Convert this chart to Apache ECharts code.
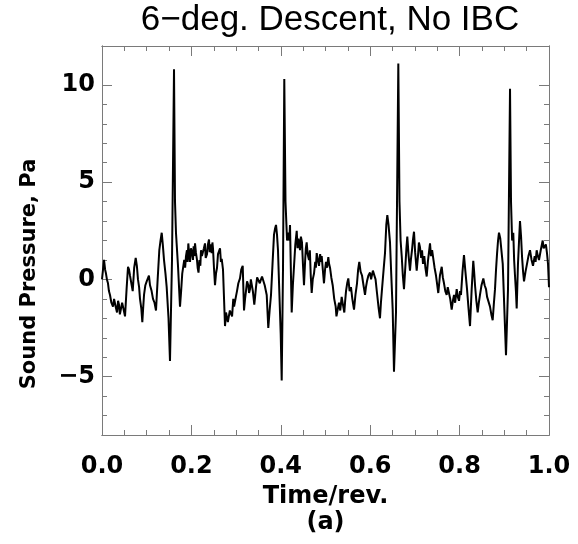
<!DOCTYPE html>
<html>
<head>
<meta charset="utf-8">
<script src="https://cdn.jsdelivr.net/npm/echarts@6/dist/echarts.min.js"></script>
<style>
html,body{margin:0;padding:0;background:#fff;}
#chart{width:578px;height:544px;}
</style>
</head>
<body>
<div id="chart"></div>
<script>
// Time (fraction of revolution)
const time = [
0,0.0045,0.0070,0.0089,0.0110,0.0134,0.0155,0.0179,0.0210,0.0246,
0.0270,0.0291,0.0315,0.0336,0.0360,0.0380,0.0400,0.0425,0.0450,0.0470,
0.0495,0.0515,0.0550,0.0582,0.0605,0.0626,0.0655,0.0687,0.0720,0.0754,
0.0780,0.0805,0.0830,0.0850,0.0880,0.0902,0.0920,0.0940,0.0970,0.1000,
0.1029,0.1050,0.1074,0.1110,0.1141,0.1175,0.1208,0.1245,0.1282,0.1310,
0.1336,0.1360,0.1387,0.1420,0.1447,0.1488,0.1521,0.1566,0.1611,0.1633,
0.1655,0.1700,
0.1745,0.1770,0.1795,0.1819,0.1840,0.1860,0.1879,0.1900,0.1915,0.1931,
0.1950,0.1969,0.1990,0.2013,0.2035,0.2050,0.2065,0.2081,0.2100,0.2125,
0.2140,0.2159,0.2180,0.2200,0.2215,0.2235,0.2260,0.2280,0.2304,0.2320,
0.2349,0.2370,0.2394,0.2410,0.2430,0.2454,0.2470,0.2483,0.2505,0.2528,
0.2550,0.2573,0.2595,0.2617,0.2640,0.2660,0.2678,0.2707,
0.2752,0.2775,0.2796,0.2815,0.2841,0.2860,0.2886,0.2910,0.2937,0.2955,
0.2975,0.2995,0.3020,0.3050,0.3087,0.3115,0.3148,0.3177,0.3200,0.3221,
0.3245,0.3273,0.3290,0.3311,0.3330,0.3349,0.3375,0.3407,0.3425,0.3445,
0.3470,0.3497,0.3530,0.3557,0.3580,0.3602,0.3640,0.3685,
0.3720,0.3750,0.3781,0.3815,0.3848,0.3870,0.3893,0.3915,0.3937,0.3965,
0.3998,0.4020,0.4049,0.4078,
0.4105,0.4140,0.4168,0.4190,0.4206,0.4228,0.4244,0.4270,0.4295,0.4325,
0.4356,0.4375,0.4395,0.4430,0.4450,0.4474,0.4495,0.4519,0.4545,0.4560,
0.4579,0.4600,0.4631,0.4650,0.4670,0.4691,0.4715,0.4743,0.4770,0.4785,
0.4803,0.4830,0.4855,0.4880,0.4900,0.4915,0.4940,0.4966,0.4990,0.5011,
0.5035,0.5063,0.5080,0.5101,
0.5130,0.5161,0.5195,0.5228,0.5245,0.5264,0.5285,0.5302,0.5330,0.5362,
0.5390,0.5421,0.5440,0.5459,0.5485,0.5510,0.5540,0.5570,0.5600,0.5638,
0.5670,0.5705,0.5730,0.5756,0.5785,0.5817,0.5850,0.5884,0.5905,0.5928,
0.5960,0.5996,0.6020,0.6040,0.6060,0.6085,0.6120,0.6152,0.6190,
0.6219,0.6240,0.6264,0.6300,0.6331,0.6360,0.6383,0.6410,0.6443,0.6470,
0.6503,0.6532,0.6577,0.6629,
0.6655,0.6680,0.6705,0.6730,0.6756,0.6790,0.6810,0.6830,0.6860,0.6890,
0.6910,0.6935,0.6955,0.6980,0.7005,0.7040,0.7069,0.7090,0.7114,0.7140,
0.7160,0.7181,0.7210,0.7235,0.7264,0.7290,0.7315,0.7338,0.7360,0.7385,
0.7412,0.7440,0.7472,
0.7500,0.7523,0.7560,0.7600,0.7625,0.7651,0.7680,0.7711,0.7735,0.7763,
0.7790,0.7823,0.7850,0.7875,0.7900,0.7935,0.7960,0.7987,0.8010,0.8031,
0.8065,0.8098,0.8130,0.8166,0.8200,0.8233,0.8270,0.8306,0.8325,0.8345,
0.8375,0.8405,0.8430,0.8456,0.8490,0.8531,0.8560,0.8591,0.8615,0.8642,
0.8680,0.8710,
0.8740,0.8765,0.8792,0.8815,0.8837,0.8860,0.8881,0.8910,0.8942,0.8965,
0.8993,0.9038,0.9083,0.9128,
0.9150,0.9175,0.9201,0.9220,0.9239,0.9260,0.9277,0.9306,0.9330,0.9351,
0.9375,0.9396,0.9420,0.9441,0.9475,0.9508,0.9540,0.9575,0.9610,0.9642,
0.9680,0.9700,0.9724,0.9750,0.9776,0.9815,0.9859,0.9880,0.9899,0.9930,
0.9955,0.9978,1.0
];
// Sound pressure, Pa
const pressure = [
0.0,1.0,0.5,0.3,0.0,-0.2,-0.6,-0.8,-1.2,-1.4,
-1.0,-1.1,-1.5,-1.7,-1.1,-1.3,-1.8,-1.9,-1.2,-1.4,
-1.5,-1.9,-0.5,0.65,0.5,0.2,0.3,-0.6,0.6,1.1,
0.7,0.0,-0.4,-1.0,-1.5,-2.2,-1.5,-0.8,-0.3,-0.1,
0.0,0.2,-0.3,-0.6,-1.0,-1.2,-1.6,0.0,1.5,2.0,
2.4,1.8,1.0,0.3,-0.4,-2.0,-4.2,1.0,10.8,4.0,
2.4,0.7,
-1.4,-0.6,0.3,0.35,1.0,0.6,1.2,1.5,0.9,1.85,
1.3,0.9,1.6,1.4,1.0,1.7,1.2,1.85,1.4,1.0,
0.6,0.35,1.0,0.7,1.5,1.2,1.1,1.6,1.85,1.1,
1.3,1.8,2.05,1.4,1.8,1.35,1.9,1.6,0.6,-0.3,
0.3,0.6,1.3,1.2,1.6,0.9,1.05,0.5,
-2.4,-1.7,-1.8,-2.2,-2.3,-1.6,-1.5,-1.9,-1.0,-1.4,
-1.5,-0.9,-0.6,-0.2,0.05,0.5,0.7,-1.6,-1.0,-0.6,
-0.1,-0.3,-0.7,-0.5,0.0,0.05,-0.6,-1.3,-0.9,-0.4,
0.1,0.05,-0.2,0.0,0.15,0.1,-0.3,-0.8,
-2.5,-1.6,-0.8,0.8,2.3,2.6,2.8,2.3,1.5,-0.5,
-2.8,-5.2,0.5,10.3,
4.0,2.0,2.4,2.0,2.8,0.15,-1.7,-0.3,0.65,1.8,
2.5,1.6,2.1,1.5,2.2,1.9,0.8,-0.3,1.0,1.6,
1.9,1.3,1.0,1.5,0.2,-0.7,0.0,0.3,0.9,0.6,
1.35,1.0,0.7,1.3,0.9,1.2,0.5,-0.2,0.5,0.9,
0.6,1.15,0.8,0.6,
0.1,-0.3,-1.0,-1.4,-1.9,-1.9,-1.4,-1.2,-1.6,-0.9,
-1.3,-1.7,-1.1,-0.6,-0.2,0.05,-0.6,-0.4,-1.0,-1.55,
-0.8,-0.2,0.5,0.9,0.4,0.2,-0.3,-0.8,-0.4,-0.1,
0.2,0.35,0.0,0.1,0.45,0.45,0.0,-0.7,-1.5,
-2.0,-1.2,-0.5,0.5,1.35,2.8,3.3,2.8,1.9,0.3,
-1.55,-4.75,-1.7,11.1,
4.0,2.0,1.2,0.2,-0.5,0.8,1.6,2.2,1.2,0.45,
1.0,1.5,2.0,2.45,1.4,0.45,1.2,1.9,1.65,1.1,
1.5,0.8,1.2,0.6,0.15,0.9,1.4,1.85,1.2,1.5,
1.05,0.6,0.2,
-0.3,-0.7,0.2,0.65,0.1,-0.2,-0.6,-0.8,-0.4,-0.3,
-1.0,-1.55,-1.1,-0.8,-1.2,-0.5,-0.9,-1.1,-0.6,-0.8,
0.4,1.25,0.4,-0.5,-1.5,-2.4,-0.5,0.95,0.4,-0.3,
-1.1,-1.7,-1.2,-0.8,-0.3,0.05,-0.3,-0.5,-0.9,-1.0,
-1.4,-1.8,
-2.1,-1.3,-0.5,0.5,1.3,2.0,2.4,2.1,2.2,0.8,
-1.0,-3.9,-0.5,9.8,
4.0,2.0,2.4,1.0,0.2,-0.6,-1.5,0.8,2.0,3.0,
2.2,1.2,0.4,-0.1,0.4,0.8,1.2,1.5,1.0,0.7,
1.2,0.9,1.5,1.2,1.0,1.5,2.0,1.6,1.5,1.8,
1.35,0.8,-0.4
];
// Tick positions
const xMajorTicks = [0.0, 0.2, 0.4, 0.6, 0.8, 1.0];
const xMinorTicks = [0.05,0.1,0.15,0.25,0.3,0.35,0.45,0.5,0.55,0.65,0.7,0.75,0.85,0.9,0.95];
const yMajorTicks = [-5, 0, 5, 10];
const yMinorTicks = [-7,-6,-4,-3,-2,-1,1,2,3,4,6,7,8,9];

const FONT = 'DejaVu Sans';
const axisColor = '#7a7a7a';

function xAxisDef(pos, ticks, len, labels) {
  return {
    type: 'value', min: 0, max: 1, position: pos,
    axisLine: {show: true, onZero: false, lineStyle: {color: axisColor, width: 1}},
    axisTick: {show: true, inside: true, length: len, customValues: ticks, lineStyle: {color: axisColor, width: 1}},
    axisLabel: labels ? {
      show: true, customValues: xMajorTicks, margin: 20,
      formatter: v => v.toFixed(1),
      fontFamily: FONT, fontWeight: 'bold', fontSize: 24, color: '#000'
    } : {show: false},
    splitLine: {show: false}
  };
}
function yAxisDef(pos, ticks, len, labels) {
  return {
    type: 'value', min: -8, max: 12, position: pos,
    axisLine: {show: true, onZero: false, lineStyle: {color: axisColor, width: 1}},
    axisTick: {show: true, inside: true, length: len, customValues: ticks, lineStyle: {color: axisColor, width: 1}},
    axisLabel: labels ? {
      show: true, customValues: yMajorTicks, margin: 7,
      formatter: v => String(v).replace('-', '\u2212'),
      fontFamily: FONT, fontWeight: 'bold', fontSize: 24, color: '#000'
    } : {show: false},
    splitLine: {show: false}
  };
}

const xAxes = [
  xAxisDef('bottom', xMajorTicks, 10, true),
  xAxisDef('bottom', xMinorTicks, 5, false),
  xAxisDef('top', xMajorTicks, 10, false),
  xAxisDef('top', xMinorTicks, 5, false)
];
xAxes[0].name = 'Time/rev.\n(a)';
xAxes[0].nameLocation = 'middle';
xAxes[0].nameGap = 49;
xAxes[0].nameTextStyle = {fontFamily: FONT, fontWeight: 'bold', fontSize: 24, color: '#000', lineHeight: 26};

const yAxes = [
  yAxisDef('left', yMajorTicks, 10, true),
  yAxisDef('left', yMinorTicks, 5, false),
  yAxisDef('right', yMajorTicks, 10, false),
  yAxisDef('right', yMinorTicks, 5, false)
];

const chart = echarts.init(document.getElementById('chart'), null, {renderer: 'canvas'});
chart.setOption({
  animation: false,
  backgroundColor: '#fff',
  title: {
    text: '6\u2212deg. Descent, No IBC',
    left: 325, top: -2, textAlign: 'center',
    textStyle: {fontFamily: 'Liberation Sans', fontWeight: 'normal', fontSize: 35, color: '#000'}
  },
  graphic: [{
    type: 'text', x: 30, y: 274, rotation: Math.PI / 2,
    style: {
      text: 'Sound Pressure, Pa', align: 'center', verticalAlign: 'middle',
      fontFamily: FONT, fontWeight: 'bold', fontSize: 21, fill: '#000'
    }
  }],
  grid: {left: 102, right: 29, top: 46, bottom: 109, containLabel: false},
  xAxis: xAxes,
  yAxis: yAxes,
  series: [{
    type: 'line',
    xAxisIndex: 0, yAxisIndex: 0,
    data: time.map((t, i) => [t, pressure[i]]),
    showSymbol: false, symbol: 'none',
    lineStyle: {color: '#000', width: 2},
    clip: true
  }]
});
</script>
</body>
</html>
